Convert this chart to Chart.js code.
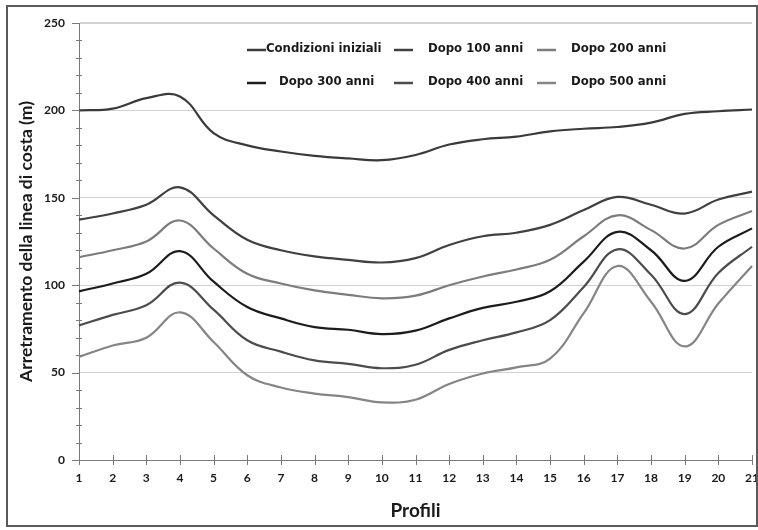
<!DOCTYPE html>
<html>
<head>
<meta charset="utf-8">
<script src="https://cdn.jsdelivr.net/npm/chart.js@4"></script>
<style>
  html, body { margin: 0; padding: 0; background: #ffffff; }
  #wrap { position: relative; width: 758px; height: 530px; }
  #frame { position: absolute; left: 6px; top: 5px; width: 748px; height: 518px;
           border: 2px solid #5a5a5a; pointer-events: none; }
</style>
</head>
<body>
<div id="wrap">
  <canvas id="c" width="758" height="530"></canvas>
  <div id="frame"></div>
</div>
<script>
// ---- data ----
const categories = ['1','2','3','4','5','6','7','8','9','10','11','12','13','14','15','16','17','18','19','20','21'];
const condizioniIniziali = [200, 201, 207, 208, 187, 180, 176.5, 174, 172.5, 171.5, 174.5, 180.5, 183.5, 185, 188, 189.5, 190.5, 193, 198, 199.5, 200.5];
const dopo100 = [137.5, 141, 146, 156, 140, 126, 120, 116.5, 114.5, 113, 115.5, 123, 128, 130, 134.5, 143, 150.5, 146, 141, 149, 153.5];
const dopo200 = [116, 120, 125, 137, 121, 106.5, 101, 97, 94.5, 92.5, 94, 100, 105, 109, 114.5, 128, 140, 131.5, 121, 134.5, 142.5];
const dopo300 = [96.5, 101, 106.5, 119.5, 102, 87.5, 81, 76, 74.5, 72, 74, 81, 87, 90.5, 96.5, 113.5, 130.5, 120, 102.5, 122, 132.5];
const dopo400 = [77, 83, 88.5, 101.5, 86, 68.5, 62, 57, 55, 52.5, 54.5, 63, 68.5, 73, 80, 99, 120.5, 106, 83.5, 107, 122];
const dopo500 = [59, 65.5, 70, 84.5, 67.5, 48.5, 41.5, 38, 36, 33, 34.5, 43.5, 49.5, 53, 58, 84, 111, 90.5, 65, 89.5, 111];
const seriesNames = ['Condizioni iniziali', 'Dopo 100 anni', 'Dopo 200 anni', 'Dopo 300 anni', 'Dopo 400 anni', 'Dopo 500 anni'];
const yTickLabels = [0, 50, 100, 150, 200, 250];
const yMinorStep = 10;

const seriesColors = ['#3a3a3a', '#404040', '#7c7c7c', '#1c1c1c', '#4c4c4c', '#858585'];
const seriesData = [condizioniIniziali, dopo100, dopo200, dopo300, dopo400, dopo500];

// legend layout (2 rows x 3 columns)
const legendRowsY = [49, 82];
const legendLineX = [247, 394, 537];
const legendTextX = [[266, 428, 571], [279, 428, 571]];

const tickPlugin = {
  id: 'crossTicks',
  afterDraw(chart) {
    const ctx = chart.ctx;
    const xs = chart.scales.x, ys = chart.scales.y;
    const x0 = xs.left, y0 = ys.getPixelForValue(0);
    ctx.save();
    ctx.strokeStyle = '#7a7a7a';
    ctx.lineWidth = 1;
    ctx.beginPath();
    for (let v = ys.min; v <= ys.max; v += yMinorStep) {
      const y = Math.round(ys.getPixelForValue(v)) + 0.5;
      if (v % 50 === 0) { ctx.moveTo(x0 - 7, y); ctx.lineTo(x0 + 1, y); }
      else { ctx.moveTo(x0 - 3, y); ctx.lineTo(x0 + 3, y); }
    }
    categories.forEach((c, i) => {
      const x = Math.round(xs.getPixelForValue(i)) + 0.5;
      ctx.moveTo(x, y0 - 5); ctx.lineTo(x, y0 + 5);
    });
    ctx.stroke();
    ctx.restore();
  }
};

const legendPlugin = {
  id: 'gridLegend',
  afterDraw(chart) {
    const ctx = chart.ctx;
    ctx.save();
    ctx.font = 'bold 13px "Liberation Sans Narrow", "Arial Narrow", "DejaVu Sans Condensed", sans-serif';
    ctx.textBaseline = 'middle';
    ctx.textAlign = 'left';
    chart.data.datasets.forEach((ds, i) => {
      const r = Math.floor(i / 3), col = i % 3;
      const y = legendRowsY[r];
      ctx.strokeStyle = ds.borderColor;
      ctx.lineWidth = 2.5;
      ctx.beginPath();
      ctx.moveTo(legendLineX[col], y + 1);
      ctx.lineTo(legendLineX[col] + 19, y + 1);
      ctx.stroke();
      ctx.fillStyle = '#1a1a1a';
      ctx.fillText(ds.label, legendTextX[r][col], y);
    });
    ctx.restore();
  }
};

new Chart(document.getElementById('c'), {
  type: 'line',
  data: {
    labels: categories,
    datasets: seriesData.map((d, i) => ({
      label: seriesNames[i],
      data: d,
      borderColor: seriesColors[i],
      backgroundColor: seriesColors[i],
      borderWidth: 2.2,
      pointRadius: 0,
      tension: 0.4,
      fill: false
    }))
  },
  options: {
    responsive: false,
    animation: false,
    events: [],
    layout: { padding: { top: 23, right: 0, bottom: 0, left: 0 } },
    plugins: { legend: { display: false }, tooltip: { enabled: false }, title: { display: false } },
    scales: {
      x: {
        type: 'category',
        offset: false,
        grid: { display: false, drawTicks: false },
        border: { display: true, color: '#7a7a7a', width: 1 },
        ticks: {
          autoSkip: false, maxRotation: 0, padding: 11, color: '#1a1a1a',
          font: { family: 'Lato, "Open Sans", sans-serif', weight: 'bold', size: 12 }
        },
        title: {
          display: true, text: 'Profili', color: '#1a1a1a',
          font: { family: 'Lato, "Open Sans", sans-serif', weight: 'bold', size: 19 },
          padding: { top: 0, bottom: 7.5 }
        },
        afterFit(scale) { scale.height = 70; scale.paddingLeft = 0; scale.paddingRight = 6; }
      },
      y: {
        min: 0, max: 250,
        ticks: {
          stepSize: 50, padding: 14, color: '#1a1a1a',
          font: { family: 'Lato, "Open Sans", sans-serif', weight: 'bold', size: 12 }
        },
        afterBuildTicks(scale) { scale.ticks = yTickLabels.map(v => ({ value: v })); },
        grid: {
          drawTicks: false,
          color: ctx => (ctx.tick && ctx.tick.value === 0) ? 'transparent' : '#d2d2d2',
          lineWidth: ctx => (ctx.tick && ctx.tick.value === 250) ? 2 : 1
        },
        border: { display: true, color: '#7a7a7a', width: 1 },
        title: {
          display: true, text: 'Arretramento della linea di costa (m)', color: '#1a1a1a',
          font: { family: 'Lato, "Open Sans", sans-serif', weight: 'bold', size: 17.5 },
          padding: { top: 15.5, bottom: 0 }
        },
        afterFit(scale) { scale.width = 79; }
      }
    }
  },
  plugins: [tickPlugin, legendPlugin]
});
</script>
</body>
</html>
